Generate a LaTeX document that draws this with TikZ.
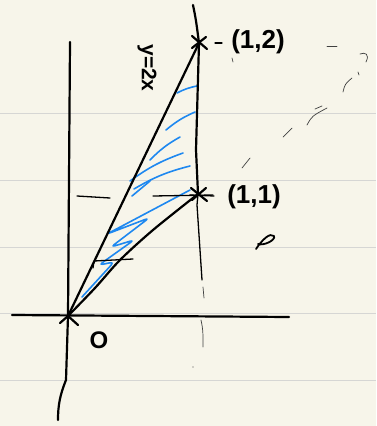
\documentclass[tikz,border=0pt]{standalone}
\usepackage{fontspec}
\setmainfont{Liberation Sans}
\definecolor{paper}{HTML}{F7F5EA}
\definecolor{rulegray}{HTML}{D6D6D4}
\definecolor{hatchblue}{HTML}{1E88F0}
\begin{document}
\begin{tikzpicture}[x=1pt,y=-1pt,
  ink/.style={line width=2.2pt, line cap=round, line join=round, black},
  thinink/.style={line width=1.3pt, line cap=round, line join=round, black},
  faint/.style={line width=0.7pt, line cap=round, black!75},
  hatch/.style={line width=1.6pt, line cap=round, line join=round, rounded corners=4pt, hatchblue},
  ruleline/.style={line width=1pt, rulegray},
  lbl/.style={inner sep=0pt, font=\bfseries\fontsize{26}{26}\selectfont}]
\fill[paper] (0,0) rectangle (376,426);
\useasboundingbox (0,0) rectangle (376,426);
\foreach \yy in {113,180,247,313,380} \draw[ruleline] (0,\yy) -- (376,\yy);

\coordinate (O) at (68,316);
\coordinate (P) at (199,43);
\coordinate (Q) at (198,194);

% blue hatching
\draw[hatch] (82,297) -- (114,262) -- (99,265) -- (134,240) -- (111,247) -- (149,218) -- (107,234) -- (190,190);
\draw[hatch] (132,196) -- (150,181);
\draw[hatch] (130,181) to[bend left=8] (183,153);
\draw[hatch] (134,189) to[bend left=8] (190,166);
\draw[hatch] (150,160) to[bend left=8] (180,137);
\draw[hatch] (166,130) to[bend left=8] (195,112);
\draw[hatch] (177,93) to[bend left=8] (197,86);

% axes
\draw[ink] (70,42) -- (O) -- (66,380) .. controls (60,395) and (58,405) .. (58,420);
\draw[ink] (12,315) -- (289,317);

% line x = 1
\draw[ink] (193,5) .. controls (196,20) .. (P) -- (196,150) -- (Q);
\draw[thinink] (Q) -- (197,205) -- (202,280);
\draw[faint] (203,287) -- (204,298);
\draw[faint] (201,320) .. controls (203,330) .. (203,347);
\fill[black!70] (193,367) circle (0.7pt);

% y = 2x and y = x^2
\draw[ink] (O) -- (P);
\draw[ink] plot[smooth] coordinates {(O) (95,288) (120,260) (153,230) (Q)};

% ticks and guide lines
\draw[thinink] (77,196) -- (110,198);
\draw[thinink] (153,196) -- (213,195);
\draw[thinink] (93,268) -- (94,261) -- (133,259);

% marks at points
\draw[ink] (192,36) -- (207,49);
\draw[ink] (192,48) -- (206,37);
\draw[thinink] (215,43) -- (222,43);
\draw[ink] (191,188) -- (207,201);
\draw[ink] (192,200) -- (206,188);
\draw[thinink] (190,195) -- (214,196);
\draw[ink] (60,323) -- (O) -- (78,325);

% labels
\node[lbl] (l12) at (258,42) {(1,2)};
\node[lbl] (l11) at (254,197) {(1,1)};
\node[lbl, font=\bfseries\fontsize{24}{24}\selectfont] (lO) at (99,340) {O};
\node[lbl, font=\bfseries\fontsize{21}{21}\selectfont, rotate=-90] (lline) at (147,68) {y=2x};

% faint dashed sketch on the right
\draw[faint] (327,46) -- (337,46);
\draw[faint] (360,54) .. controls (365,52) and (370,54) .. (366,62);
\draw[faint] (358,72) -- (359,75);
\draw[faint] (343,92) .. controls (345,84) .. (352,78);
\draw[faint] (307,125) .. controls (312,116) .. (327,108);
\draw[faint] (315,109) -- (322,106);
\draw[faint] (283,137) -- (292,128);
\draw[faint] (242,168) -- (250,158);
\draw[faint] (232,58) -- (233,62);

% squiggle
\draw[ink, line width=1.8pt] (256,249) .. controls (262,240) and (270,232) .. (274,236) .. controls (276,240) and (264,246) .. (258,244);
\end{tikzpicture}
\end{document}
